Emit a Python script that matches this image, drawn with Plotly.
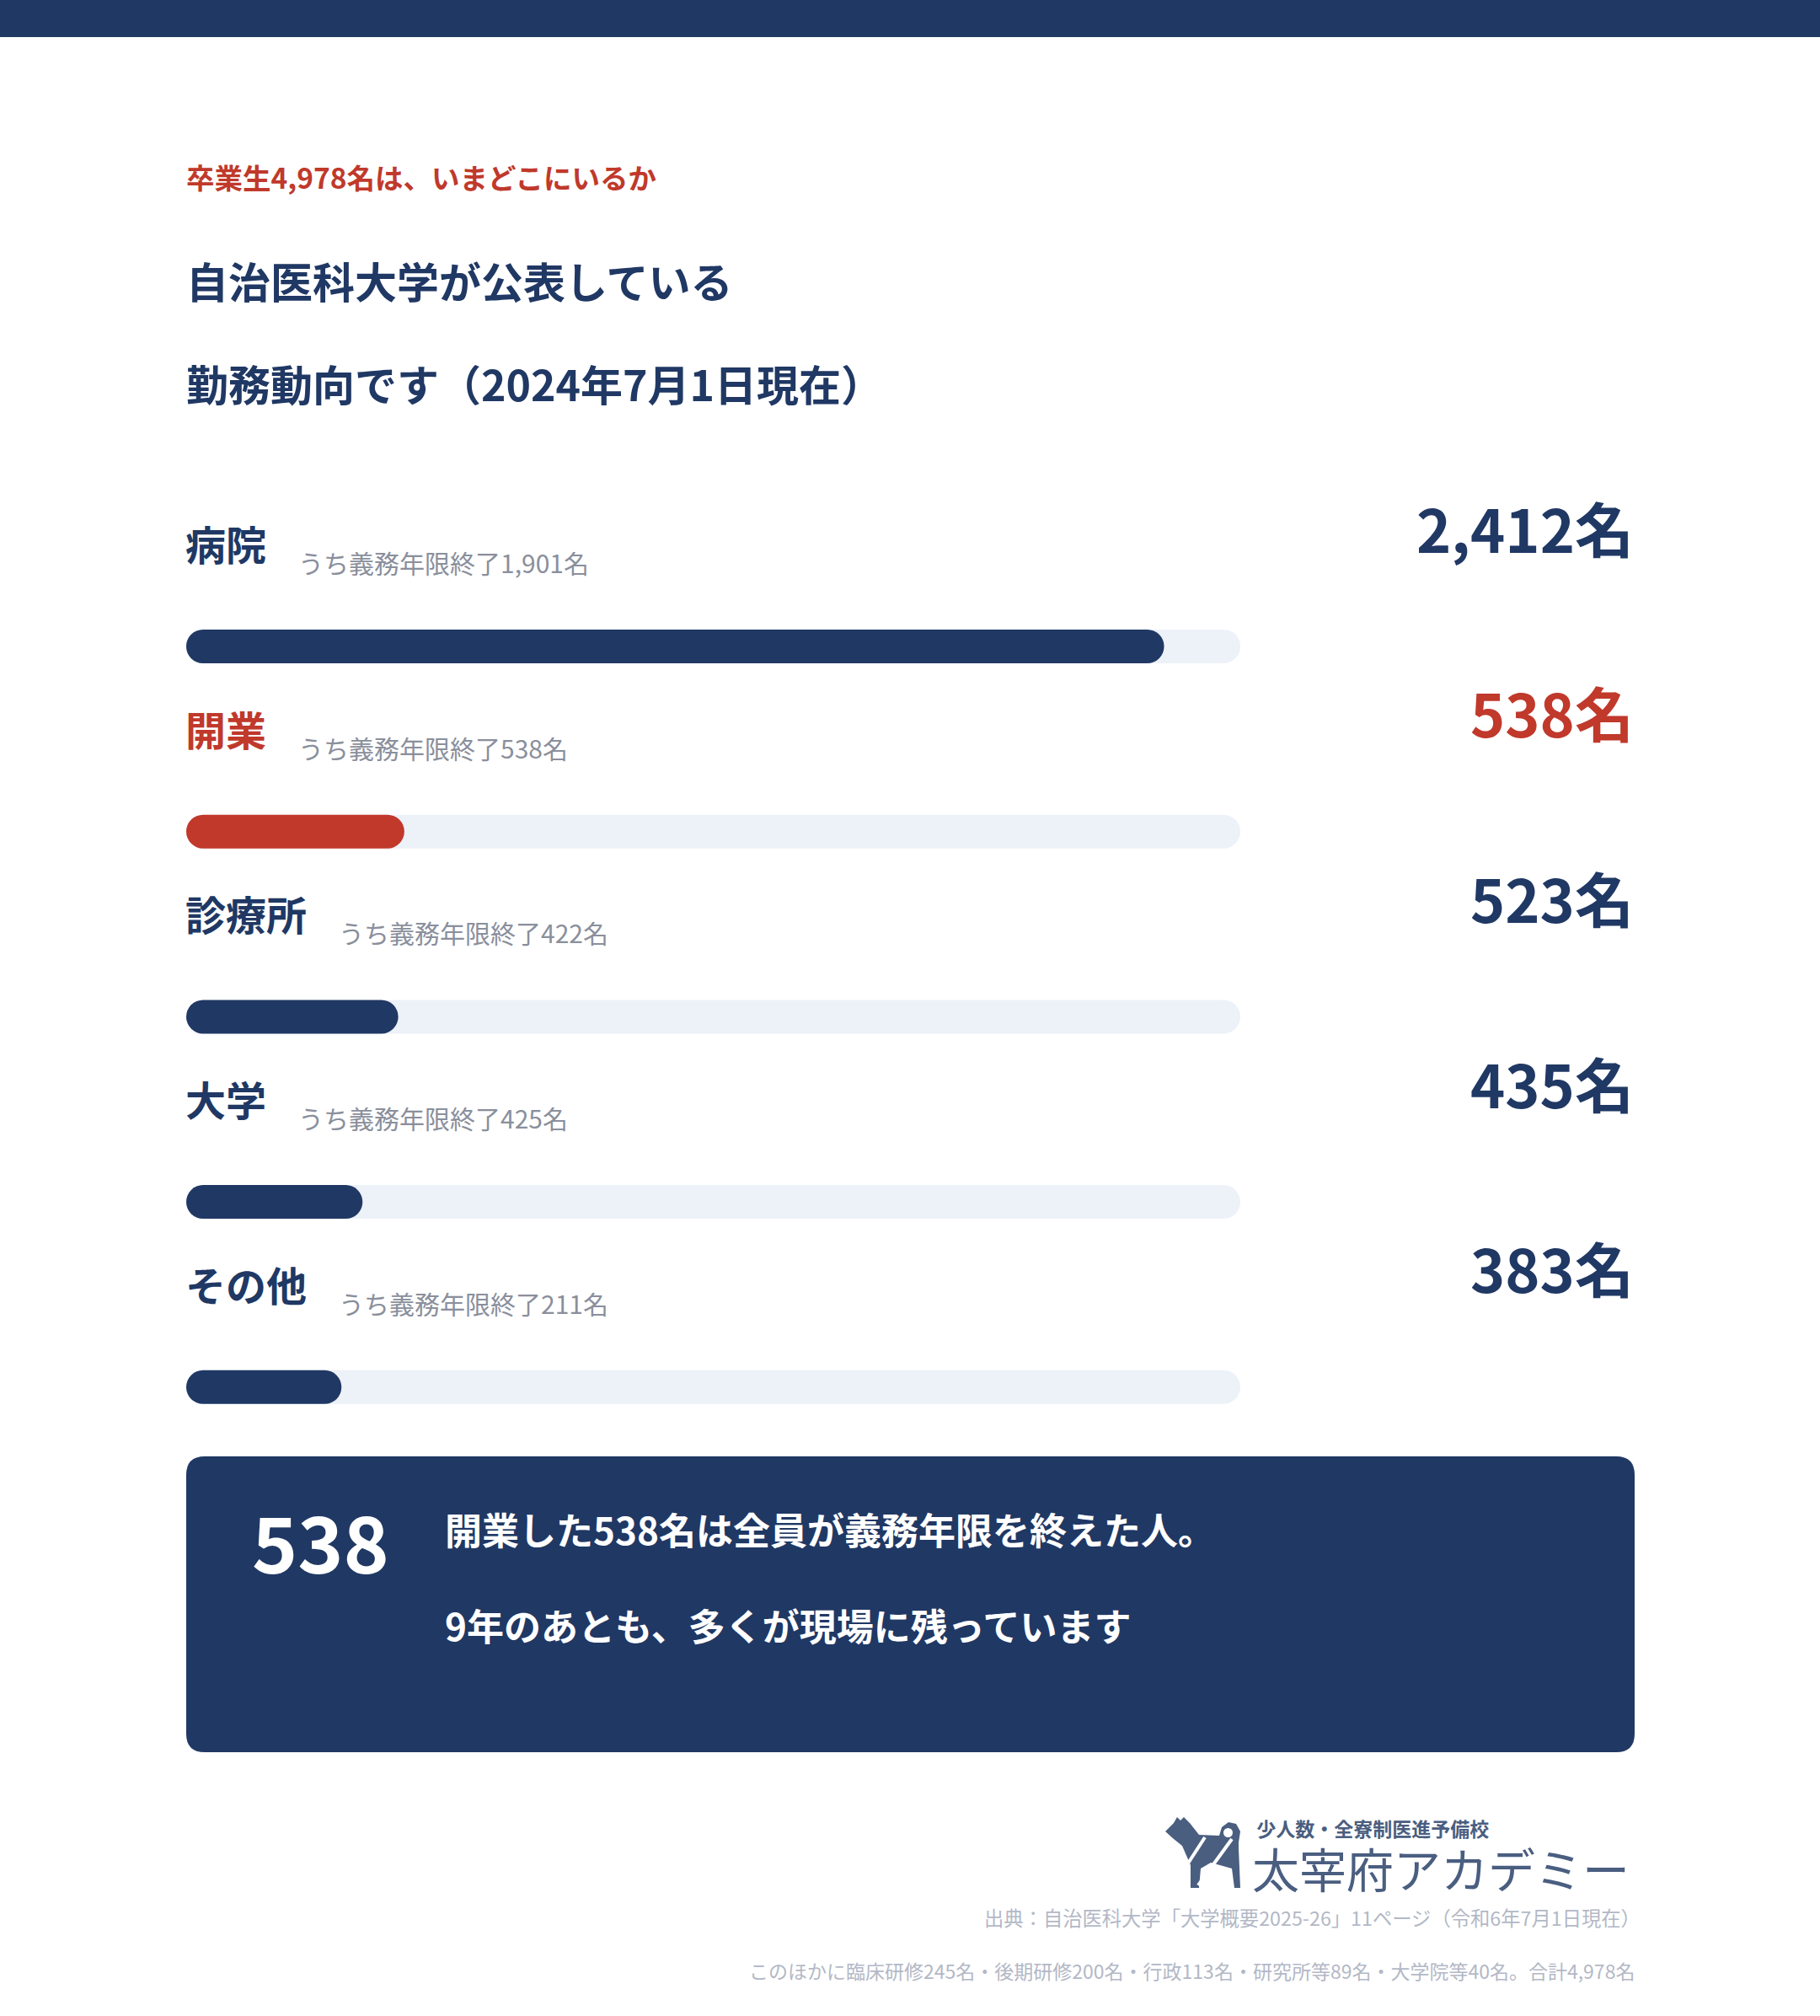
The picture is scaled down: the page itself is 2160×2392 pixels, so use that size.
import plotly.graph_objects as go

# data
categories = ["病院", "開業", "診療所", "大学", "その他"]
counts = [2412, 538, 523, 435, 383]
completed = [1901, 538, 422, 425, 211]
highlight = [False, True, False, False, False]
scale_max = 2600

kicker = "卒業生4,978名は、いまどこにいるか"
title_lines = ["自治医科大学が公表している", "勤務動向です（2024年7月1日現在）"]
callout_number = "538"
callout_lines = ["開業した538名は全員が義務年限を終えた人。", "9年のあとも、多くが現場に残っています"]
logo_small = "少人数・全寮制医進予備校"
logo_big = "太宰府アカデミー"
source_text = "出典：自治医科大学「大学概要2025-26」11ページ（令和6年7月1日現在）"
note_text = "このほかに臨床研修245名・後期研修200名・行政113名・研究所等89名・大学院等40名。合計4,978名"

W, H = 2160, 2392
NAVY = "#203864"
RED = "#c0392b"
TRACK = "#edf1f8"
GRAY = "#8a8f9c"
LIGHT = "#b3b8c6"
LOGO = "#4a5e80"
FONT = "Noto Sans CJK JP"

LEFT = 221
RIGHT = 1941
ROW0 = 644
ROW_GAP = 219.7
BAR_OFF = 123

bar_y = [ROW0 + BAR_OFF + i * ROW_GAP for i in range(len(categories))]
bar_colors = [RED if h else NAVY for h in highlight]

fig = go.Figure()

# an explicit base makes plotly round both ends of each bar
fig.add_trace(go.Bar(
    x=[scale_max] * len(categories), base=[0] * len(categories), y=bar_y,
    orientation="h", width=40,
    marker=dict(color=TRACK, cornerradius="50%", line_width=0),
    xaxis="x2", yaxis="y", hoverinfo="skip", showlegend=False
))
fig.add_trace(go.Bar(
    x=counts, base=[0] * len(categories), y=bar_y,
    orientation="h", width=40,
    marker=dict(color=bar_colors, cornerradius="50%", line_width=0),
    xaxis="x2", yaxis="y", showlegend=False,
    customdata=categories,
    hovertemplate="%{customdata}: %{x:,}名<extra></extra>"
))

ann = []


def txt(x, y, s, size, color, xanchor="left", weight="normal"):
    ann.append(dict(
        x=x, y=y, xref="x", yref="y", text=s, showarrow=False,
        xanchor=xanchor, yanchor="middle", align="left",
        font=dict(family=FONT, size=size, color=color, weight=weight)
    ))


txt(LEFT - 2, 209, kicker, 33.5, RED, weight="bold")
txt(LEFT - 2, 332, title_lines[0], 50, NAVY, weight="bold")
txt(LEFT - 2, 454, title_lines[1], 50, NAVY, weight="bold")

for i, (cat, n, done, h) in enumerate(zip(categories, counts, completed, highlight)):
    y = ROW0 + i * ROW_GAP
    col = RED if h else NAVY
    txt(LEFT - 3, y, cat, 48, col, weight="bold")
    txt(LEFT + len(cat) * 48 + 35, y + 23, f"うち義務年限終了{done:,}名", 30, GRAY)
    txt(RIGHT, y - 19, f"{n:,}名", 70, col, xanchor="right", weight="bold")

# callout box text
txt(297, 1826, callout_number, 92, "white", weight="bold")
txt(526, 1814, callout_lines[0], 44, "white", weight="bold")
txt(526, 1928, callout_lines[1], 44, "white", weight="bold")

# logo and footer
txt(1484, 2204,
    f"<span style='font-size:23px;font-weight:bold'>&nbsp;{logo_small}</span><br>"
    f"<span style='font-size:56px'>{logo_big}</span>", 47, LOGO)
txt(1949, 2275, source_text, 23.3, LIGHT, xanchor="right")
txt(1942, 2338, note_text, 23, LIGHT, xanchor="right")


def rounded_rect(x0, y0, x1, y1, r):
    return (f"M{x0 + r},{y0} L{x1 - r},{y0} Q{x1},{y0} {x1},{y0 + r} "
            f"L{x1},{y1 - r} Q{x1},{y1} {x1 - r},{y1} L{x0 + r},{y1} "
            f"Q{x0},{y1} {x0},{y1 - r} L{x0},{y0 + r} Q{x0},{y0} {x0 + r},{y0} Z")


# rough dog mark of the logo
ox, oy = 1370, 2140
dog = [(13, 33), (23, 23), (27, 16), (31, 20), (35, 16), (42, 23), (53, 37),
       (77, 38), (80, 28), (88, 22), (97, 24), (102, 33), (100, 46), (100, 53),
       (102, 100), (95, 100), (92, 77), (67, 70), (55, 77), (53, 100),
       (43, 100), (43, 73), (33, 50), (23, 42)]
dog_path = "M" + " L".join(f"{ox + px},{oy + py}" for px, py in dog) + " Z"

shapes = [
    dict(type="rect", xref="x", yref="y", x0=0, x1=W, y0=0, y1=44,
         fillcolor=NAVY, line_width=0, layer="below"),
    dict(type="path", xref="x", yref="y", path=rounded_rect(LEFT, 1728, 1940, 2079, 22),
         fillcolor=NAVY, line_width=0, layer="below"),
    dict(type="path", xref="x", yref="y", path=dog_path, fillcolor=LOGO, line_width=0),
    dict(type="circle", xref="x", yref="y", x0=ox + 82, x1=ox + 93, y0=oy + 29, y1=oy + 40,
         fillcolor="white", line_width=0),
    dict(type="line", xref="x", yref="y", x0=ox + 36, y0=oy + 77, x1=ox + 60, y1=oy + 40,
         line=dict(color="white", width=4)),
    dict(type="line", xref="x", yref="y", x0=ox + 52, y0=oy + 97, x1=ox + 92, y1=oy + 42,
         line=dict(color="white", width=4)),
]

fig.update_layout(
    width=W, height=H,
    margin=dict(l=0, r=0, t=0, b=0),
    paper_bgcolor="white", plot_bgcolor="rgba(0,0,0,0)",
    barmode="overlay",
    xaxis=dict(range=[0, W], visible=False, fixedrange=True),
    yaxis=dict(range=[H, 0], visible=False, fixedrange=True),
    xaxis2=dict(domain=[LEFT / W, 1472 / W], range=[0, scale_max], anchor="y",
                visible=False, fixedrange=True),
    annotations=ann,
    shapes=shapes,
    showlegend=False,
)

fig.write_html(
    "out.html",
    config={"displayModeBar": False},
    post_script="document.body.style.margin='0';"
)
